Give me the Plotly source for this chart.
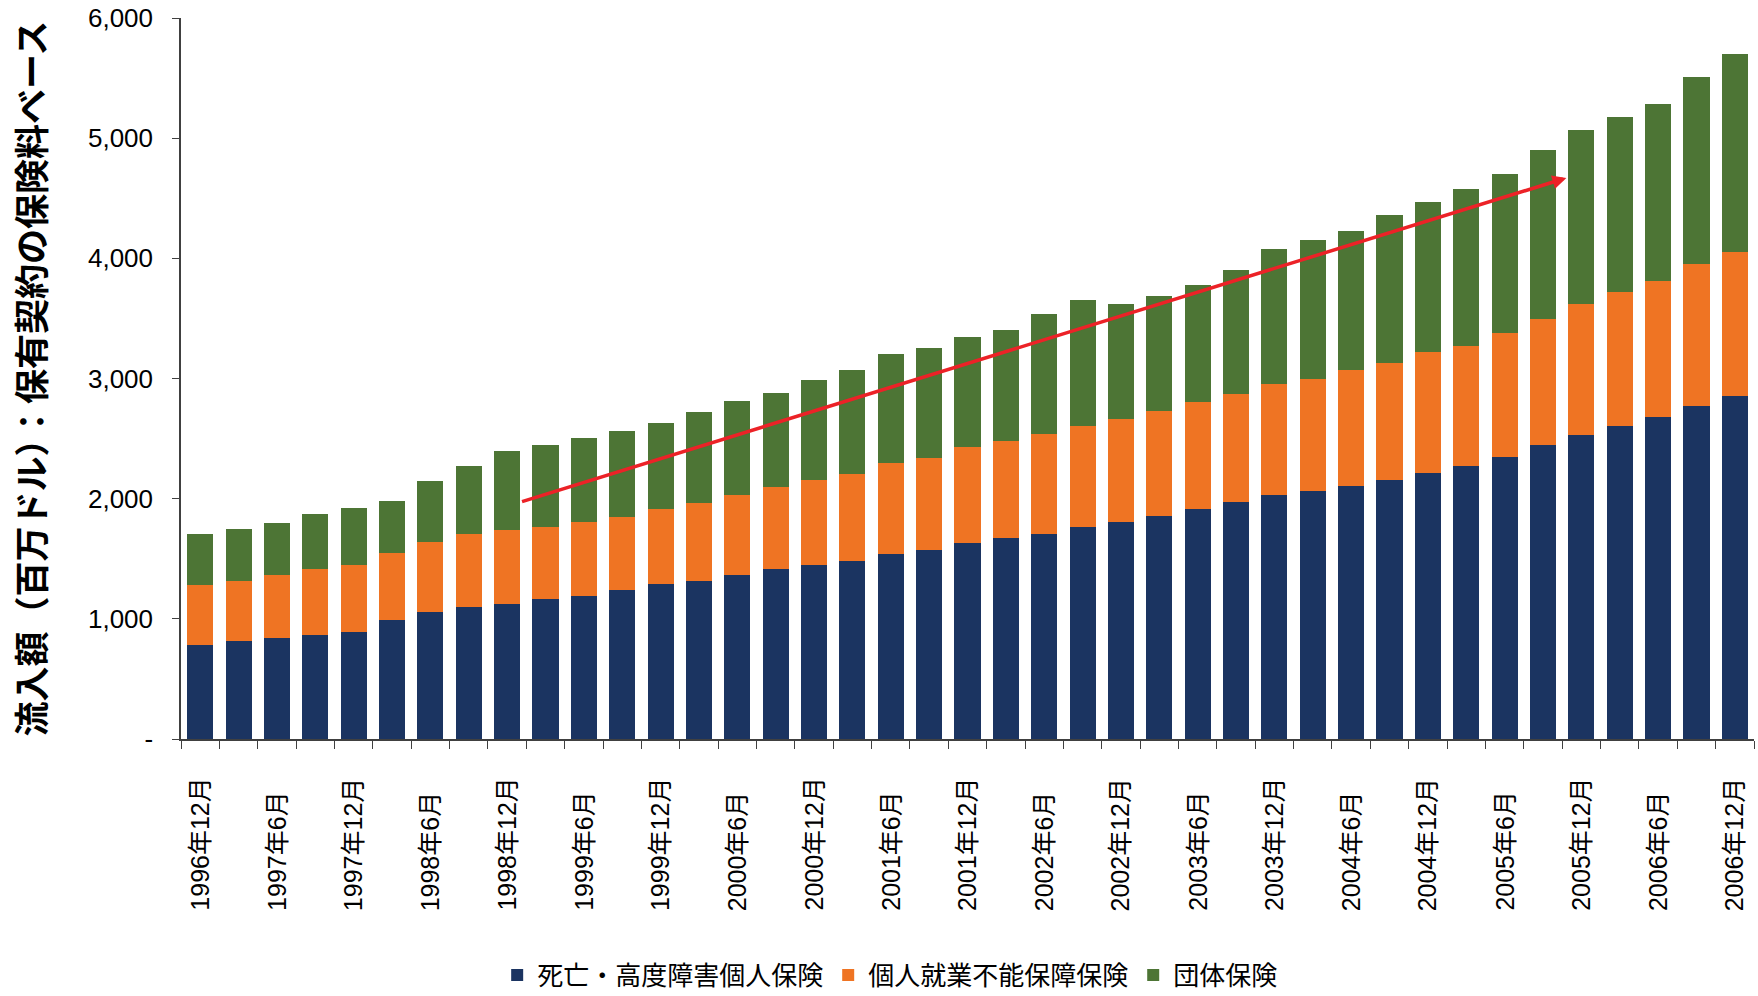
import plotly.graph_objects as go

periods = [
    "1996年12月", "1997年3月", "1997年6月", "1997年9月", "1997年12月",
    "1998年3月", "1998年6月", "1998年9月", "1998年12月",
    "1999年3月", "1999年6月", "1999年9月", "1999年12月",
    "2000年3月", "2000年6月", "2000年9月", "2000年12月",
    "2001年3月", "2001年6月", "2001年9月", "2001年12月",
    "2002年3月", "2002年6月", "2002年9月", "2002年12月",
    "2003年3月", "2003年6月", "2003年9月", "2003年12月",
    "2004年3月", "2004年6月", "2004年9月", "2004年12月",
    "2005年3月", "2005年6月", "2005年9月", "2005年12月",
    "2006年3月", "2006年6月", "2006年9月", "2006年12月",
]

tick_labels = [
    "1996年12月", "1997年6月", "1997年12月", "1998年6月", "1998年12月",
    "1999年6月", "1999年12月", "2000年6月", "2000年12月", "2001年6月",
    "2001年12月", "2002年6月", "2002年12月", "2003年6月", "2003年12月",
    "2004年6月", "2004年12月", "2005年6月", "2005年12月", "2006年6月",
    "2006年12月",
]

death_disability = [786, 815, 839, 863, 887, 988, 1060, 1097, 1121, 1161, 1194,
                    1238, 1286, 1319, 1363, 1411, 1452, 1480, 1536, 1577, 1629,
                    1669, 1710, 1762, 1810, 1859, 1911, 1976, 2028, 2060, 2109,
                    2153, 2210, 2270, 2343, 2444, 2528, 2601, 2677, 2774, 2851]
income_protection = [492, 504, 524, 548, 565, 556, 577, 605, 617, 601, 608,
                     613, 625, 641, 665, 682, 701, 722, 758, 758, 798,
                     807, 826, 839, 851, 867, 891, 891, 924, 932, 960,
                     980, 1008, 1004, 1032, 1048, 1089, 1117, 1138, 1182, 1205]
group_insurance = [424, 427, 431, 460, 467, 440, 508, 568, 657, 682, 706,
                   709, 722, 758, 782, 790, 831, 867, 908, 923, 916,
                   931, 1004, 1056, 956, 964, 980, 1032, 1129, 1157, 1161,
                   1230, 1254, 1299, 1331, 1407, 1448, 1455, 1471, 1556, 1642]

series_names = ["死亡・高度障害個人保険", "個人就業不能保障保険", "団体保険"]
series_colors = ["#1B3461", "#EF7423", "#4D7535"]

y_ticks = [0, 1000, 2000, 3000, 4000, 5000, 6000]
y_tick_text = ["-", "1,000", "2,000", "3,000", "4,000", "5,000", "6,000"]

# trend arrow (start index/value -> end index/value)
arrow_start = (8.35, 1972)
arrow_end = (35.61, 4669)

y_title = "流入額（百万ドル）：保有契約の保険料ベース"

LAT = "Liberation Sans, Arial, Noto Sans CJK JP, sans-serif"
CJK = "Noto Sans CJK JP, sans-serif"

fig = go.Figure()
for name, color, vals in zip(series_names, series_colors,
                             [death_disability, income_protection, group_insurance]):
    fig.add_trace(go.Bar(x=periods, y=vals, name=name, marker_color=color,
                         marker_line_width=0))

annotations = []
for lab in tick_labels:
    annotations.append(dict(
        x=lab, xref="x", y=-0.2413, yref="paper", yanchor="bottom", xanchor="center",
        text=lab, textangle=-90, showarrow=False,
        font=dict(family=LAT, size=25, color="#000000")))

annotations.append(dict(
    x=arrow_end[0], y=arrow_end[1], xref="x", yref="y",
    ax=arrow_start[0], ay=arrow_start[1], axref="x", ayref="y",
    text="", showarrow=True, arrowhead=2, arrowsize=0.8, arrowwidth=3.5,
    arrowcolor="#EC2227", standoff=0, startstandoff=0))

annotations.append(dict(
    x=0, xref="paper", xshift=-152, y=0.5, yref="paper",
    xanchor="center", yanchor="middle", textangle=-90, showarrow=False,
    text="<b>" + y_title + "</b>",
    font=dict(family=CJK, size=35, color="#000000")))

fig.update_layout(
    width=1758, height=996,
    margin=dict(l=181, r=4, t=18, b=257, autoexpand=False),
    paper_bgcolor="white", plot_bgcolor="white",
    barmode="stack", bargap=0.32,
    showlegend=True,
    legend=dict(orientation="h", x=0.201, xanchor="left", y=-0.3273, yanchor="middle",
                traceorder="normal",
                font=dict(family=CJK, size=26, color="#000000")),
    annotations=annotations,
    font=dict(family=LAT, color="#000000"),
)

fig.update_xaxes(
    showticklabels=False, ticks="outside", tickson="boundaries", ticklen=8,
    tickcolor="#404040", showline=True, linecolor="#404040", linewidth=1.5,
    showgrid=False, zeroline=False, range=[-0.5, len(periods) - 0.5])

fig.update_yaxes(
    range=[0, 6000], tickvals=y_ticks, ticktext=y_tick_text,
    ticks="outside", ticklen=7, tickcolor="#404040",
    showline=True, linecolor="#404040", linewidth=1.5,
    showgrid=False, zeroline=False, ticklabelstandoff=14,
    tickfont=dict(family=LAT, size=26, color="#000000"))

fig.write_html("out.html")
